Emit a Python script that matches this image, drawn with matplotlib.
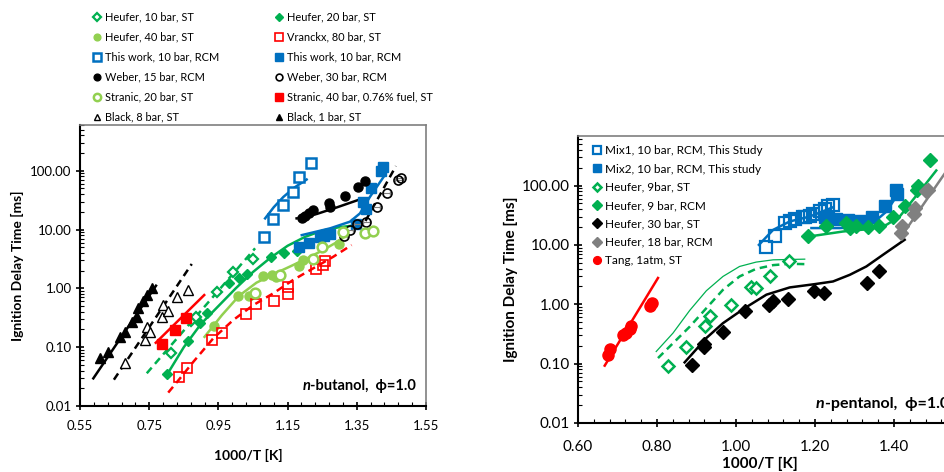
import matplotlib
matplotlib.use("Agg")
import matplotlib.pyplot as plt
from matplotlib.ticker import FixedLocator, FuncFormatter, AutoMinorLocator, LogLocator, NullFormatter
from matplotlib.lines import Line2D

plt.rcParams['font.family'] = ['Lato', 'DejaVu Sans']

# ---------------- colours ----------------
BLUE = '#0070C0'
GREEN = '#00B050'
LGREEN = '#92D050'
RED = '#FF0000'
GREY = '#808080'

# ================= LEFT PANEL : n-butanol =================
heufer10_x = [0.812, 0.870, 0.885, 0.947, 0.993, 1.051]
heufer10_y = [0.081, 0.28, 0.32, 0.855, 1.92, 3.1]
heufer10_line_x = [0.743, 1.056]
heufer10_line_y = [0.036, 4.8]

heufer20_x = [0.800, 0.863, 0.897, 0.916, 0.982, 1.010, 1.032, 1.101, 1.140, 1.176]
heufer20_y = [0.0345, 0.127, 0.26, 0.385, 1.22, 1.48, 1.73, 3.45, 4.04, 4.37]
heufer20_line_x = [0.80, 0.85, 0.90, 0.95, 1.00, 1.05, 1.10, 1.15, 1.20, 1.25, 1.30, 1.33]
heufer20_line_y = [0.033, 0.10, 0.25, 0.50, 1.0, 1.9, 3.3, 5.3, 7.5, 9.6, 11.0, 11.5]

heufer40_x = [0.937, 1.008, 1.037, 1.080, 1.104, 1.117, 1.184, 1.195, 1.299]
heufer40_y = [0.232, 0.74, 0.75, 1.6, 1.7, 1.58, 2.4, 3.05, 5.7]
heufer40_line_x = [0.91, 0.96, 1.01, 1.06, 1.11, 1.16, 1.20, 1.25, 1.29, 1.32]
heufer40_line_y = [0.15, 0.35, 0.75, 1.25, 1.75, 2.4, 3.1, 4.4, 6.0, 8.0]

vranckx_x = [0.836, 0.860, 0.932, 0.959, 1.030, 1.059, 1.112, 1.152, 1.152, 1.232, 1.251, 1.258]
vranckx_y = [0.031, 0.0437, 0.132, 0.172, 0.361, 0.535, 0.61, 1.07, 0.80, 2.1, 2.5, 2.95]
vranckx_line_x = [0.805, 0.839, 0.878, 0.935, 0.993, 1.051, 1.108, 1.166, 1.224, 1.282, 1.335]
vranckx_line_y = [0.0169, 0.0295, 0.0568, 0.141, 0.29, 0.52, 0.82, 1.39, 2.19, 3.45, 5.46]

tw_open_x = [1.083, 1.107, 1.136, 1.165, 1.183, 1.217]
tw_open_y = [7.55, 15.1, 26, 44, 79, 137]
tw_open_line_x = [1.085, 1.11, 1.138, 1.17, 1.205]
tw_open_line_y = [15.5, 24, 36, 52, 71]

tw_fill_x = [1.184, 1.213, 1.244, 1.255, 1.273, 1.348, 1.367, 1.376, 1.390, 1.420, 1.425]
tw_fill_y = [5.1, 5.97, 7.4, 7.8, 8.4, 12.4, 29.7, 22, 50, 100, 114]
tw_fill_line_x = [1.191, 1.273, 1.33, 1.359, 1.388, 1.431]
tw_fill_line_y = [8.05, 10.5, 13.6, 18.8, 36, 84.5]

weber15_x = [1.191, 1.200, 1.213, 1.224, 1.270, 1.272, 1.315, 1.354, 1.373]
weber15_y = [15.5, 17, 18.8, 21.5, 28.6, 24.4, 37, 52, 67.6]
weber15_line_x = [1.176, 1.234, 1.292, 1.359]
weber15_line_y = [15.5, 18.4, 23.8, 32.6]

weber30_x = [1.313, 1.330, 1.351, 1.378, 1.407, 1.436, 1.470, 1.477]
weber30_y = [7.75, 9.8, 12.4, 13.6, 23.8, 42, 69.5, 74]
weber30_line_x = [1.375, 1.463]
weber30_line_y = [14, 120]
weber_xerr = 0.01

stranic20_x = [1.056, 1.128, 1.224, 1.248, 1.311, 1.374, 1.398]
stranic20_y = [0.85, 1.7, 3.1, 5.0, 9.0, 8.8, 9.5]

stranic40_x = [0.788, 0.826, 0.856]
stranic40_y = [0.113, 0.196, 0.31]
stranic40_line_x = [0.769, 0.909]
stranic40_line_y = [0.119, 0.77]

black8_x = [0.680, 0.738, 0.743, 0.752, 0.786, 0.791, 0.803, 0.829, 0.861]
black8_y = [0.053, 0.132, 0.22, 0.18, 0.33, 0.52, 0.41, 0.72, 0.93]
black8_line_x = [0.648, 0.873]
black8_line_y = [0.028, 2.6]

black1_x = [0.608, 0.632, 0.666, 0.680, 0.699, 0.714, 0.718, 0.733, 0.743, 0.757]
black1_y = [0.065, 0.084, 0.15, 0.18, 0.27, 0.33, 0.47, 0.6, 0.77, 1.0]
black1_line_x = [0.5885, 0.7697]
black1_line_y = [0.0295, 1.11]

left_xticks = [0.55, 0.75, 0.95, 1.15, 1.35, 1.55]
yticks = [0.01, 0.1, 1, 10, 100]

# ================= RIGHT PANEL : n-pentanol =================
mix1_x = [1.075, 1.098, 1.123, 1.136, 1.149, 1.170, 1.174, 1.187, 1.195, 1.212, 1.225, 1.233, 1.246]
mix1_y = [9.2, 13.9, 23.8, 25.5, 27.2, 29.4, 30, 30.9, 32.9, 36.5, 40, 44.4, 47.3]
mix1_line_x = [1.058, 1.094, 1.136, 1.1865, 1.2456]
mix1_line_y = [10, 17.9, 24.8, 30, 43]

mix2_x = [1.2245, 1.254, 1.2835, 1.313, 1.345, 1.3764, 1.406, 1.408]
mix2_y = [30, 27.1, 25.8, 24.8, 29.3, 45.5, 82.4, 72.4]
mix2_line_x = [1.191, 1.2625, 1.313, 1.347, 1.381, 1.406]
mix2_line_y = [19.2, 19.2, 20, 23.3, 36.5, 65.3]

h9st_x = [0.828, 0.874, 0.921, 0.935, 0.988, 1.039, 1.051, 1.087, 1.133]
h9st_y = [0.092, 0.1875, 0.435, 0.63, 0.968, 1.95, 1.87, 2.94, 5.26]
h9st_line_x = [0.8025, 0.883, 0.925, 0.967, 1.009, 1.051, 1.094, 1.136, 1.176]
h9st_line_y = [0.124, 0.42, 0.86, 1.75, 2.94, 3.95, 4.56, 4.8, 4.74]
h9st_thin_x = [0.798, 0.8405, 0.883, 0.925, 0.967, 1.009, 1.051, 1.094, 1.174]
h9st_thin_y = [0.16, 0.327, 0.79, 1.69, 2.94, 4.33, 5.13, 5.6, 5.75]

h9rcm_x = [1.1823, 1.2287, 1.2776, 1.2895, 1.3046, 1.334, 1.362, 1.3975, 1.427, 1.459, 1.461, 1.4903]
h9rcm_y = [13.9, 20.4, 23.8, 19.1, 21, 19.9, 21, 29.3, 45.5, 82.4, 98.7, 270]
h9rcm_line_x = [1.174, 1.271, 1.3385, 1.381, 1.4144, 1.448, 1.482, 1.507]
h9rcm_line_y = [13.5, 16.8, 18.5, 21.8, 30, 57.4, 110, 179]

h30_x = [0.8886, 0.919, 0.919, 0.967, 1.022, 1.0835, 1.094, 1.1316, 1.1975, 1.2228, 1.3325, 1.362]
h30_y = [0.096, 0.1875, 0.216, 0.336, 0.78, 0.98, 1.12, 1.24, 1.64, 1.54, 2.27, 3.57]
h30_line_x = [0.87, 0.925, 0.967, 1.022, 1.077, 1.136, 1.199, 1.2456, 1.288, 1.33, 1.372, 1.427]
h30_line_y = [0.105, 0.27, 0.48, 0.86, 1.45, 1.92, 2.18, 2.42, 3.13, 4.33, 6.8, 12.2]

h18_x = [1.4186, 1.4203, 1.4498, 1.4523, 1.482, 1.486]
h18_y = [15.8, 20.4, 33.3, 41.5, 79.3, 84.5]
h18_line_x = [1.427, 1.53]
h18_line_y = [16.8, 165]

tang_x = [0.676, 0.682, 0.714, 0.7225, 0.731, 0.735, 0.7815, 0.788]
tang_y = [0.1415, 0.176, 0.307, 0.328, 0.383, 0.425, 0.92, 1.07]
tang_line_x = [0.6676, 0.8025]
tang_line_y = [0.0925, 2.77]

right_xticks = [0.60, 0.80, 1.00, 1.20, 1.40]

# ================= FIGURE =================
W, H = 944, 472
fig = plt.figure(figsize=(W / 100, H / 100), dpi=100)

def px_axes(l, t, r, b):
    return [l / W, 1 - b / H, (r - l) / W, (b - t) / H]

axL = fig.add_axes(px_axes(80, 125, 426, 406))
axR = fig.add_axes(px_axes(578, 135.7, 973, 423))

yfmt = FuncFormatter(lambda v, p: f"{v:.2f}")


def style_axes(ax, xlim, ylim, xticks, tick_fs, xpad):
    ax.set_yscale('log')
    ax.set_xlim(*xlim)
    ax.set_ylim(*ylim)
    ax.xaxis.set_major_locator(FixedLocator(xticks))
    ax.xaxis.set_major_formatter(FuncFormatter(lambda v, p: f"{v:.2f}"))
    ax.xaxis.set_minor_locator(AutoMinorLocator(5))
    ax.yaxis.set_major_locator(FixedLocator(yticks))
    ax.yaxis.set_major_formatter(yfmt)
    ax.yaxis.set_minor_locator(LogLocator(base=10, subs=range(2, 10), numticks=20))
    ax.yaxis.set_minor_formatter(NullFormatter())
    ax.tick_params(which='major', direction='inout', length=6, width=1.2,
                   labelsize=tick_fs, color='black', pad=3)
    ax.tick_params(axis='x', which='major', pad=xpad)
    ax.tick_params(which='minor', direction='in', length=3, width=0.8, color='black')
    for s in ['left', 'bottom']:
        ax.spines[s].set_linewidth(1.5)
        ax.spines[s].set_color('black')
    for s in ['top', 'right']:
        ax.spines[s].set_linewidth(1.2)
        ax.spines[s].set_color('#7f7f7f')


style_axes(axL, (0.55, 1.55), (0.01, 600), left_xticks, 9.5, 7)
style_axes(axR, (0.60, 1.60), (0.01, 690), right_xticks, 11, 9)

# ---------- left: model lines ----------
lw = 1.8
axL.plot(black1_line_x, black1_line_y, color='black', lw=lw)
axL.plot(black8_line_x, black8_line_y, color='black', lw=lw, ls=(0, (3, 2)))
axL.plot(stranic40_line_x, stranic40_line_y, color=RED, lw=lw)
axL.plot(heufer10_line_x, heufer10_line_y, color=GREEN, lw=lw, ls=(0, (3, 2)))
axL.plot(heufer20_line_x, heufer20_line_y, color=GREEN, lw=lw)
axL.plot(heufer40_line_x, heufer40_line_y, color=LGREEN, lw=lw)
axL.plot(vranckx_line_x, vranckx_line_y, color=RED, lw=lw, ls=(0, (3, 2)))
axL.plot(tw_open_line_x, tw_open_line_y, color=BLUE, lw=lw)
axL.plot(tw_fill_line_x, tw_fill_line_y, color=BLUE, lw=lw)
axL.plot(weber15_line_x, weber15_line_y, color='black', lw=lw)
axL.plot(weber30_line_x, weber30_line_y, color='black', lw=lw, ls=(0, (3, 2)))

# ---------- left: data ----------
hL = {}
hL['h10'] = axL.plot(heufer10_x, heufer10_y, ls='none', marker='D', ms=5, mfc='white', mec=GREEN, mew=1.6,
                     label='Heufer, 10 bar, ST')[0]
hL['h20'] = axL.plot(heufer20_x, heufer20_y, ls='none', marker='D', ms=5, mfc=GREEN, mec=GREEN,
                     label='Heufer, 20 bar, ST')[0]
hL['h40'] = axL.plot(heufer40_x, heufer40_y, ls='none', marker='o', ms=6.5, mfc=LGREEN, mec=LGREEN,
                     label='Heufer, 40 bar, ST')[0]
hL['vr'] = axL.plot(vranckx_x, vranckx_y, ls='none', marker='s', ms=7.5, mfc='none', mec=RED, mew=1.2,
                    label='Vranckx, 80 bar, ST')[0]
hL['two'] = axL.plot(tw_open_x, tw_open_y, ls='none', marker='s', ms=7.5, mfc='white', mec=BLUE, mew=1.8,
                     label='This work, 10 bar, RCM')[0]
hL['twf'] = axL.plot(tw_fill_x, tw_fill_y, ls='none', marker='s', ms=7, mfc=BLUE, mec=BLUE,
                     label='This work, 10 bar, RCM')[0]
axL.errorbar(weber15_x, weber15_y, xerr=weber_xerr, fmt='none', ecolor=GREY, elinewidth=0.8, capsize=1.5)
axL.errorbar(weber30_x, weber30_y, xerr=weber_xerr, fmt='none', ecolor=GREY, elinewidth=0.8, capsize=1.5)
hL['w15'] = axL.plot(weber15_x, weber15_y, ls='none', marker='o', ms=6.5, mfc='black', mec='black',
                     label='Weber, 15 bar, RCM')[0]
hL['w30'] = axL.plot(weber30_x, weber30_y, ls='none', marker='o', ms=6.5, mfc='none', mec='black', mew=1.2,
                     label='Weber, 30 bar, RCM')[0]
hL['s20'] = axL.plot(stranic20_x, stranic20_y, ls='none', marker='o', ms=7, mfc='white', mec=LGREEN, mew=1.8,
                     label='Stranic, 20 bar, ST')[0]
hL['s40'] = axL.plot(stranic40_x, stranic40_y, ls='none', marker='s', ms=7, mfc=RED, mec=RED,
                     label='Stranic, 40 bar, 0.76% fuel, ST')[0]
hL['b8'] = axL.plot(black8_x, black8_y, ls='none', marker='^', ms=6.5, mfc='white', mec='black', mew=1.0,
                    label='Black, 8 bar, ST')[0]
hL['b1'] = axL.plot(black1_x, black1_y, ls='none', marker='^', ms=6.5, mfc='black', mec='black',
                    label='Black, 1 bar, ST')[0]

order = ['h10', 'h40', 'two', 'w15', 's20', 'b8', 'h20', 'vr', 'twf', 'w30', 's40', 'b1']
leg_handles = []
for k in order:
    h = hL[k]
    leg_handles.append(Line2D([], [], ls='none', marker=h.get_marker(), ms=h.get_markersize() * 0.75,
                              mfc=h.get_markerfacecolor(), mec=h.get_markeredgecolor(),
                              mew=h.get_markeredgewidth(), label=h.get_label()))
fig.legend(handles=leg_handles, ncol=2, loc='upper left', bbox_to_anchor=(85 / W, 1 - 4 / H),
           frameon=False, fontsize=7.9, handlelength=0.8, handletextpad=0.3, columnspacing=5.1,
           labelspacing=0.82, borderpad=0.2)

axL.set_xlabel('1000/T [K]', fontsize=10, fontweight='bold')
axL.xaxis.set_label_coords((248 - 80) / 346, -(449 - 406) / 281)
axL.set_ylabel('Ignition Delay Time [ms]', fontsize=10, fontweight='bold')
axL.yaxis.set_label_coords(-(80 - 24) / 346, 0.5)

t1 = axL.text(416 / W, 1 - 392.7 / H, '-butanol,  ϕ=1.0', transform=fig.transFigure,
              ha='right', va='bottom', fontsize=10.5, fontweight='bold')
axL.annotate('n', xy=(0, 0), xycoords=t1, ha='right', va='bottom', fontsize=10.5,
             fontweight='bold', fontstyle='italic')

# ---------- right: model lines ----------
axR.plot(tang_line_x, tang_line_y, color=RED, lw=lw)
axR.plot(h9st_thin_x, h9st_thin_y, color=GREEN, lw=0.9)
axR.plot(h9st_line_x, h9st_line_y, color=GREEN, lw=lw, ls=(0, (3, 2)))
axR.plot(h30_line_x, h30_line_y, color='black', lw=lw)
axR.plot(mix1_line_x, mix1_line_y, color=BLUE, lw=lw)
axR.plot(mix2_line_x, mix2_line_y, color=BLUE, lw=lw)
axR.plot(h9rcm_line_x, h9rcm_line_y, color=GREEN, lw=lw)
axR.plot(h18_line_x, h18_line_y, color=GREY, lw=lw)

# ---------- right: data ----------
hR = []
hR.append(axR.plot(mix1_x, mix1_y, ls='none', marker='s', ms=8, mfc='none', mec=BLUE, mew=1.6,
                   label='Mix1, 10 bar, RCM, This Study')[0])
hR.append(axR.plot(mix2_x, mix2_y, ls='none', marker='s', ms=8, mfc=BLUE, mec=BLUE,
                   label='Mix2, 10 bar, RCM, This study')[0])
hR.append(axR.plot(h9st_x, h9st_y, ls='none', marker='D', ms=6, mfc='white', mec=GREEN, mew=1.8,
                   label='Heufer, 9bar, ST')[0])
hR.append(axR.plot(h9rcm_x, h9rcm_y, ls='none', marker='D', ms=7, mfc=GREEN, mec=GREEN,
                   label='Heufer, 9 bar, RCM')[0])
hR.append(axR.plot(h30_x, h30_y, ls='none', marker='D', ms=7, mfc='black', mec='black',
                   label='Heufer, 30 bar, ST')[0])
hR.append(axR.plot(h18_x, h18_y, ls='none', marker='D', ms=7, mfc=GREY, mec=GREY,
                   label='Heufer, 18 bar, RCM')[0])
hR.append(axR.plot(tang_x, tang_y, ls='none', marker='o', ms=8, mfc=RED, mec=RED,
                   label='Tang, 1atm, ST')[0])

legR_handles = []
for h in hR:
    legR_handles.append(Line2D([], [], ls='none', marker=h.get_marker(), ms=h.get_markersize() * 0.7,
                               mfc=h.get_markerfacecolor(), mec=h.get_markeredgecolor(),
                               mew=h.get_markeredgewidth(), label=h.get_label()))
axR.legend(handles=legR_handles, loc='upper left', bbox_to_anchor=(584 / W, 1 - 137 / H),
           bbox_transform=fig.transFigure, frameon=False, fontsize=8.5, handlelength=0.8,
           handletextpad=0.3, labelspacing=0.62, borderpad=0.2)

axR.set_xlabel('1000/T [K]', fontsize=11, fontweight='bold')
axR.xaxis.set_label_coords((760 - 578) / 395, -(457 - 423) / 287.3)
axR.set_ylabel('Ignition Delay Time [ms]', fontsize=11, fontweight='bold')
axR.yaxis.set_label_coords(-(578 - 518) / 395, 0.5)

t2 = axR.text(816 / W, 1 - 411 / H, 'n', transform=fig.transFigure, ha='left', va='bottom',
              fontsize=11.5, fontweight='bold', fontstyle='italic')
axR.annotate('-pentanol,  ϕ=1.0', xy=(1, 0), xycoords=t2, ha='left', va='bottom', fontsize=11.5,
             fontweight='bold', annotation_clip=False)

fig.savefig('out.png', dpi=100)
